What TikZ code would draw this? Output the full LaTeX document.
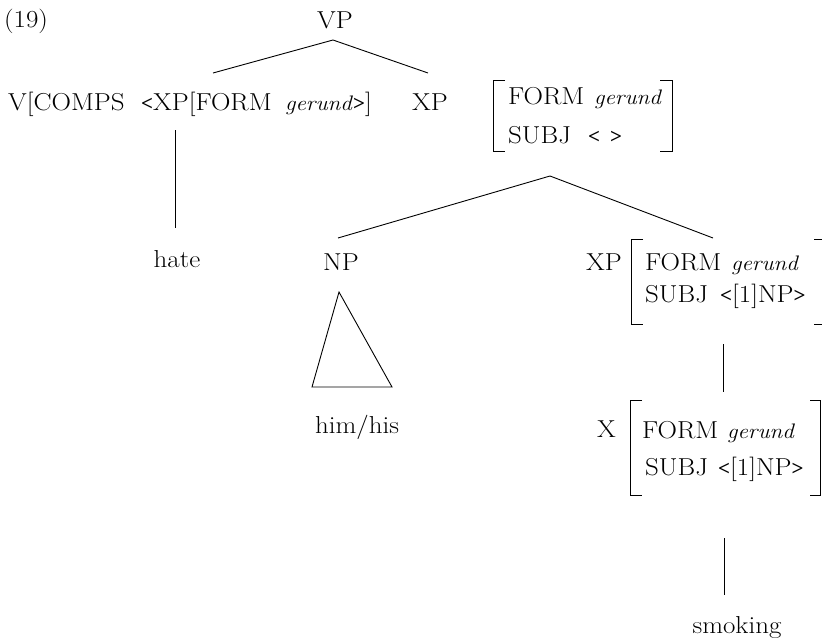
\documentclass[tikz,border=0pt]{standalone}
\usepackage{fontspec}
\setmainfont{Latin Modern Roman}[FakeStretch=1.1]
\newfontfamily\angfont{Liberation Serif}
% small heavy angle brackets and the italic feature value
\newcommand\angl{{\angfont\bfseries\fontsize{21}{25}\selectfont<}}
\newcommand\angr{{\angfont\bfseries\fontsize{21}{25}\selectfont>}}
\newcommand\gerundtxt{{\fontsize{21}{25}\selectfont\itshape gerund\/}}
\begin{document}
\begin{tikzpicture}[x=1pt,y=-1pt,
  lbl/.style={inner sep=0pt, font=\fontsize{24.5}{29}\selectfont},
  branch/.style={line width=0.9pt},
  avmbr/.style={line width=0.9pt}]
\useasboundingbox (0,0) rectangle (822,640);
\clip (0,0) rectangle (822,640);

% example number and root
\node[lbl,anchor=base west] (num) at (4,27) {(19)};
\node[lbl,anchor=base] (vp) at (335,28) {VP};

% second row: head verb and complement
\node[lbl,anchor=base west] (v) at (8,110) {V[COMPS};
\node[lbl,anchor=base west] (v2) at (141,110) {\angl XP[FORM};
\node[lbl,anchor=base west] (v3) at (285,110) {\gerundtxt\angr]};
\node[lbl,anchor=base] (xp1) at (430,110) {XP};
\node[lbl,anchor=base west] (f1) at (508,104) {FORM};
\node[lbl,anchor=base west] (g1) at (594,104) {\gerundtxt};
\node[lbl,anchor=base west] (s1) at (508,143) {SUBJ};
\node[lbl,anchor=base west] (s1l) at (588,143) {\angl};
\node[lbl,anchor=base west] (s1r) at (610,143) {\angr};
\draw[avmbr] (505,80) -- (493,80) -- (493,151) -- (505,151);
\draw[avmbr] (660,80) -- (672,80) -- (672,151) -- (660,151);

\coordinate (vp-b) at (333,40);
\coordinate (v-t) at (213,73);
\coordinate (xp1-t) at (428,73);
\draw[branch] (v-t) -- (vp-b) -- (xp1-t);

% verb and its word
\coordinate (v-b) at (175,130);
\coordinate (hate-t) at (175,228);
\node[lbl,anchor=base] (hate) at (177,267) {hate};
\draw[branch] (v-b) -- (hate-t);

% complement branches
\coordinate (xp1-b) at (550,176);
\coordinate (np-t) at (338,238);
\coordinate (xp2-t) at (713,238);
\draw[branch] (np-t) -- (xp1-b) -- (xp2-t);

\node[lbl,anchor=base] (np) at (341,270) {NP};
\coordinate (tri-a) at (339,292);
\coordinate (tri-l) at (312,387);
\coordinate (tri-r) at (392,387);
\draw[branch] (tri-a) -- (tri-l) -- (tri-r) -- cycle;
\node[lbl,anchor=base] (him) at (357,433) {him/his};

\node[lbl,anchor=base east] (xp2) at (622,270) {XP};
\node[lbl,anchor=base west] (f2) at (645,270) {FORM};
\node[lbl,anchor=base west] (g2) at (731,270) {\gerundtxt};
\node[lbl,anchor=base west] (s2) at (645,302) {SUBJ};
\node[lbl,anchor=base west] (s2v) at (720,302) {\angl[1]NP\angr};
\draw[avmbr] (643,239) -- (631,239) -- (631,324) -- (643,324);
\draw[avmbr] (814,239) -- (826,239) -- (826,324) -- (814,324);

\coordinate (xp2-b) at (723,344);
\coordinate (x-t) at (723,392);
\draw[branch] (xp2-b) -- (x-t);

\node[lbl,anchor=base east] (x) at (616,437) {X};
\node[lbl,anchor=base west] (f3) at (642,438) {FORM};
\node[lbl,anchor=base west] (g3) at (727,438) {\gerundtxt};
\node[lbl,anchor=base west] (s3) at (645,475) {SUBJ};
\node[lbl,anchor=base west] (s3v) at (718,475) {\angl[1]NP\angr};
\draw[avmbr] (642,400) -- (630,400) -- (630,495) -- (642,495);
\draw[avmbr] (810,400) -- (820,400) -- (820,495) -- (810,495);

\coordinate (x-b) at (724,538);
\coordinate (smoke-t) at (724,595);
\draw[branch] (x-b) -- (smoke-t);
\node[lbl,anchor=base] (smoke) at (737,633) {smoking};
\end{tikzpicture}
\end{document}
